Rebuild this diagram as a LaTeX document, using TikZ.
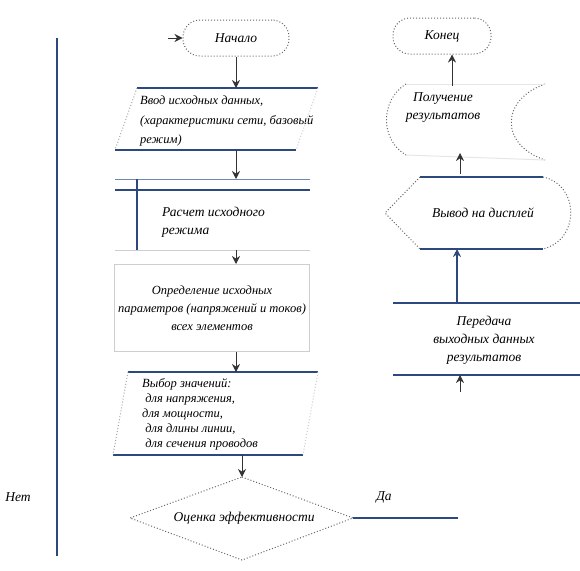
\documentclass[tikz,border=0pt]{standalone}
\usepackage{fontspec}
\setmainfont{Liberation Serif}
\usepackage{tikz}
\usetikzlibrary{arrows,arrows.meta,shapes,positioning,calc}
\definecolor{lineblue}{RGB}{45,72,125}
\definecolor{lightblue}{RGB}{110,135,185}
\definecolor{softgray}{RGB}{205,205,210}

\begin{document}
\begin{tikzpicture}[x=1pt, y=-1pt,
    txt/.style={font=\itshape\fontsize{13.5}{18}\selectfont, align=center, inner sep=0pt},
    term/.style={draw=gray!80!black, dotted, line width=1pt, rounded corners=17pt, minimum height=36pt},
    side/.style={draw=gray!70, dotted, line width=1pt},
    solid edge/.style={draw=lineblue, line width=1.3pt},
    faint/.style={draw=softgray, line width=1pt},
    flow/.style={-{Stealth[length=8pt,width=8pt]}, thick, black!80},
]
\useasboundingbox (0,0) rectangle (580,570);

% Left column: start and input
\node[term, txt, minimum width=106pt] (start) at (236,38) {Начало};
\coordinate (in1nw) at (137,88);
\coordinate (in1ne) at (318,88);
\coordinate (in1se) at (296,150);
\coordinate (in1sw) at (115,150);
\node[txt, align=left, anchor=west, font=\itshape\fontsize{12.5}{19.5}\selectfont] (in1) at (140,121)
  {Ввод исходных данных,\\(характеристики сети, базовый\\режим)};
\draw[solid edge] (in1nw) -- (in1ne);
\draw[solid edge] (in1sw) -- (in1se);
\draw[side] (in1nw) -- (in1sw);
\draw[side, draw=softgray] (in1ne) -- (in1se);
\draw[flow] (start) -- (start |- in1nw);

% Predefined process
\coordinate (calcnw) at (115,179);
\coordinate (calcse) at (310,250);
\node[txt, align=left, anchor=west] (calc) at (162,222) {Расчет исходного\\режима};
\draw[lightblue, line width=1pt] (calcnw) -- (calcnw -| calcse);
\draw[solid edge] ($(calcnw)+(0,11)$) -- ($(calcnw -| calcse)+(0,11)$);
\draw[solid edge] ($(calcnw)+(22,0)$) -- ($(calcnw |- calcse)+(22,0)$);
\draw[faint] (calcnw |- calcse) -- (calcse);
\draw[flow] (start |- in1sw) -- (start |- calcnw);

% Initial parameters
\node[faint, draw, minimum width=195pt, minimum height=87pt, txt, font=\itshape\fontsize{12.5}{18}\selectfont] (init) at (212,308)
  {Определение исходных\\параметров (напряжений и токов)\\всех элементов};
\draw[flow] (start |- calcse) -- (start |- init.north);

% Second input
\coordinate (in2nw) at (128,372);
\coordinate (in2ne) at (318,372);
\coordinate (in2se) at (303,455);
\coordinate (in2sw) at (113,455);
\node[txt, align=left, anchor=west, font=\itshape\fontsize{12.5}{15}\selectfont] (in2) at (142,414)
  {Выбор значений:\\\ для напряжения,\\для мощности,\\\ для длины линии,\\\ для сечения проводов};
\draw[solid edge] (in2nw) -- (in2ne);
\draw[solid edge] (in2sw) -- (in2se);
\draw[side] (in2nw) -- (in2sw);
\draw[side, draw=softgray] (in2ne) -- (in2se);
\draw[flow] (init.south -| start) -- (start |- in2nw);

% Decision
\coordinate (chkn) at (242,477);
\coordinate (chke) at (353,518);
\coordinate (chks) at (242,560);
\coordinate (chkw) at (130,518);
\node[txt] (check) at (244,518) {Оценка эффективности};
\draw[draw=gray!80!black, dotted, line width=1pt] (chkn) -- (chke) -- (chks) -- (chkw) -- cycle;
\draw[flow] (chkn |- in2sw) -- (chkn);
\coordinate (yesend) at (458,518);
\draw[solid edge] (chke) -- (yesend);
\node[txt] (yes) at (384,497) {Да};
\node[txt] (no) at (18,497) {Нет};
\coordinate (notop) at (57,38);
\coordinate (nobot) at (57,556);
\draw[solid edge] (notop) -- (nobot);
\coordinate (loopin) at (168,38);
\draw[flow] (loopin) -- (start.west);

% Right column
\node[term, txt, minimum width=98pt] (end) at (442,36) {Конец};
\node[txt] (store) at (443,108) {Получение\\результатов};
\draw[dotted, gray!80!black, line width=1pt] (406,84) .. controls (380,100) and (380,140) .. (406,155);
\draw[dotted, gray!80!black, line width=1pt] (545,84) .. controls (500,100) and (500,145) .. (545,160);
\draw[faint, draw=softgray!50] (406,84) -- (545,84);
\draw[faint, draw=softgray!50] (406,155) -- (545,160);
\coordinate (storetop) at (452,86);
\coordinate (storebot) at (460,153);
\draw[flow] (storetop) -- (end.south -| storetop);

% Display
\node[txt] (show) at (483,213) {Вывод на дисплей};
\coordinate (shownw) at (420,177);
\coordinate (showne) at (543,177);
\coordinate (showsw) at (420,249);
\coordinate (showse) at (543,249);
\coordinate (showw) at (385,213);
\draw[solid edge] (shownw) -- (showne);
\draw[solid edge] (showsw) -- (showse);
\draw[dotted, gray!80!black, line width=1pt] (shownw) -- (showw) -- (showsw);
\draw[dotted, gray!80!black, line width=1pt] (showne) .. controls (580,185) and (580,240) .. (showse);
\draw[flow] ($(shownw -| storebot)+(0,-3)$) -- (storebot);

% Transfer of results
\node[txt] (send) at (484,340) {Передача\\выходных данных\\результатов};
\coordinate (sendnw) at (393,303);
\coordinate (sendse) at (580,375);
\draw[solid edge] (sendnw) -- (sendnw -| sendse);
\draw[solid edge] (sendnw |- sendse) -- (sendse);
\coordinate (sendout) at (457,303);
\draw[flow, draw=lineblue, line width=1.3pt] (sendout) -- (sendout |- showsw);
\coordinate (sendin) at (460,392);
\draw[flow] (sendin) -- (sendin |- sendse);

\end{tikzpicture}
\end{document}
